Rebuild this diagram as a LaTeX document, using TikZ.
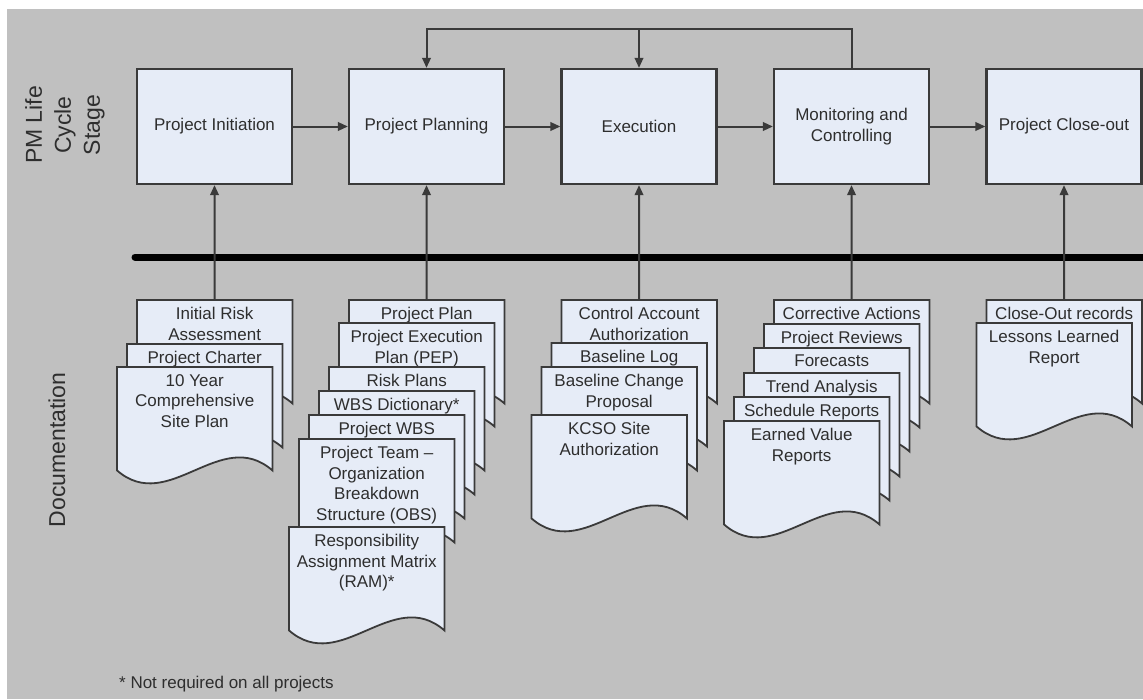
\documentclass[tikz,border=0pt]{standalone}
\usepackage{fontspec}
\setmainfont{Liberation Sans}
\usetikzlibrary{arrows.meta,calc}

\definecolor{bggray}{HTML}{C0C0C0}
\definecolor{boxfill}{HTML}{E6ECF7}
\definecolor{edge}{HTML}{3A3A3A}
\definecolor{ink}{HTML}{2E2E2E}

\tikzset{
  stage/.style={draw=edge, line width=2.2pt, fill=boxfill, minimum width=155pt,
    minimum height=115pt, inner sep=0pt, align=center,
    font=\fontsize{17}{20.5}\selectfont, text=ink},
  flow/.style={draw=edge, line width=2pt, -{Triangle[length=10pt,width=8.5pt]}},
  pageframe/.style={anchor=north west, minimum width=155pt, minimum height=103pt,
    inner sep=0pt},
  pageedge/.style={draw=edge, line width=1.8pt, fill=boxfill, line join=miter},
  pagetext/.style={anchor=north, inner sep=0pt, align=center,
    font=\fontsize{17}{20.5}\selectfont, text=ink},
  sidelabel/.style={rotate=90, align=center, inner sep=0pt,
    font=\fontsize{23}{29}\selectfont, text=ink},
  rail/.style={line width=7pt, line cap=round, draw=black},
}

% one sheet of a document stack: frame node, wavy outline, title text
\newcommand\docpage[4]{%
  \node[pageframe] (#1) at (#2,#3) {};
  \path[pageedge] (#1.north west) -- (#1.north east) -- (#1.south east)
    .. controls ($(#1.south east)+(-51.67,-45)$) and ($(#1.south west)+(51.67,45)$)
    .. (#1.south west) -- cycle;
  \node[pagetext] (#1-txt) at ($(#1.north)+(0,7)$) {#4};
}

\begin{document}
\begin{tikzpicture}[x=1pt, y=-1pt]
  \useasboundingbox (0,0) rectangle (1143,699);
  \fill[white] (0,0) rectangle (1143,699);
  \fill[bggray] (7,9) rectangle (1143,699);

  % side labels
  \node[sidelabel] (stagelbl) at (65,125) {PM Life\\Cycle\\Stage};
  \node[sidelabel] (doclbl) at (57,450) {Documentation};

  % life cycle stages
  \node[stage] (init)  at (214.5,126.5) {Project Initiation};
  \node[stage] (plan)  at (426.5,126.5) {Project Planning};
  \node[stage] (exec)  at (639,126.5)   {Execution};
  \node[stage] (mon)   at (851.5,126.5) {Monitoring and\\Controlling};
  \node[stage] (close) at (1064,126.5)  {Project Close-out};

  \draw[flow] (init.east) -- (plan.west);
  \draw[flow] (plan.east) -- (exec.west);
  \draw[flow] (exec.east) -- (mon.west);
  \draw[flow] (mon.east) -- (close.west);

  % feedback loop from monitoring
  \coordinate (loop) at (0,29);
  \draw[flow] (mon.north) -- (mon.north |- loop) -| (plan.north);
  \draw[flow] (exec.north |- loop) -- (exec.north);

  % divider between stages and documentation
  \coordinate (railL) at (135,257);
  \coordinate (railR) at (1146,257);
  \draw[rail] (railL) -- (railR);

  % initiation documents
  \docpage{d1a}{137}{300}{Initial Risk\\Assessment}
  \docpage{d1b}{127}{344}{Project Charter}
  \docpage{d1c}{117}{367}{10 Year\\Comprehensive\\Site Plan}

  % planning documents
  \docpage{d2a}{349}{300}{Project Plan}
  \docpage{d2b}{339}{323}{Project Execution\\Plan (PEP)}
  \docpage{d2c}{329}{367}{Risk Plans}
  \docpage{d2d}{319}{391}{WBS Dictionary*}
  \docpage{d2e}{309}{415}{Project WBS}
  \docpage{d2f}{299}{439}{Project Team --\\Organization\\Breakdown\\Structure (OBS)}
  \docpage{d2g}{289}{527}{Responsibility\\Assignment Matrix\\(RAM)*}

  % execution documents
  \docpage{d3a}{561.5}{300}{Control Account\\Authorization}
  \docpage{d3b}{551.5}{343}{Baseline Log}
  \docpage{d3c}{541.5}{367}{Baseline Change\\Proposal}
  \docpage{d3d}{531.5}{415}{KCSO Site\\Authorization}

  % monitoring documents
  \docpage{d4a}{774}{300}{Corrective Actions}
  \docpage{d4b}{764}{324}{Project Reviews}
  \docpage{d4c}{754}{348}{Forecasts}
  \docpage{d4d}{744}{373}{Trend Analysis}
  \docpage{d4e}{734}{397}{Schedule Reports}
  \docpage{d4f}{724}{421}{Earned Value\\Reports}

  % close-out documents
  \docpage{d5a}{986.5}{300}{Close-Out records}
  \docpage{d5b}{976.5}{323}{Lessons Learned\\Report}

  % documents feed the stages
  \draw[flow] (d1a.north) -- (init.south);
  \draw[flow] (d2a.north) -- (plan.south);
  \draw[flow] (d3a.north) -- (exec.south);
  \draw[flow] (d4a.north) -- (mon.south);
  \draw[flow] (d5a.north) -- (close.south);

  \node[anchor=west, inner sep=0pt, font=\fontsize{17}{20.5}\selectfont, text=ink]
    (note) at (119,684) {* Not required on all projects};
\end{tikzpicture}
\end{document}
